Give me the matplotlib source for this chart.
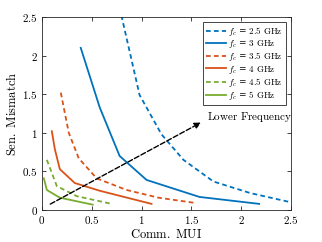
import matplotlib.pyplot as plt
import numpy as np

plt.rcParams['mathtext.fontset'] = 'cm'
plt.rcParams['font.family'] = ['DejaVu Serif']

# data
x_25 = [0.78, 0.98, 1.20, 1.42, 1.72, 2.09, 2.50]
y_25 = [2.62, 1.49, 0.98, 0.65, 0.37, 0.22, 0.10]
x_30 = [0.39, 0.58, 0.78, 1.05, 1.58, 2.18]
y_30 = [2.10, 1.33, 0.70, 0.39, 0.17, 0.08]
x_35 = [0.19, 0.27, 0.37, 0.55, 0.85, 1.17, 1.55]
y_35 = [1.52, 1.00, 0.67, 0.41, 0.26, 0.16, 0.09]
x_40 = [0.10, 0.13, 0.18, 0.33, 0.58, 1.10]
y_40 = [1.02, 0.79, 0.53, 0.35, 0.25, 0.08]
x_45 = [0.05, 0.15, 0.35, 0.70]
y_45 = [0.65, 0.31, 0.18, 0.08]
x_50 = [0.02, 0.05, 0.18, 0.51]
y_50 = [0.41, 0.26, 0.16, 0.07]

labels = ['2.5', '3', '3.5', '4', '4.5', '5']
ticks = [0, 0.5, 1, 1.5, 2, 2.5]
tick_labels = ['0', '0.5', '1', '1.5', '2', '2.5']

blue = '#0072BD'
orange = '#D95319'
green = '#77AC30'

fig = plt.figure(figsize=(3.22, 2.42), dpi=100)
ax = fig.add_axes([0.130, 0.132, 0.774, 0.798])

series = [
    (x_25, y_25, blue, True),
    (x_30, y_30, blue, False),
    (x_35, y_35, orange, True),
    (x_40, y_40, orange, False),
    (x_45, y_45, green, True),
    (x_50, y_50, green, False),
]
for (xs, ys, c, dashed), lab in zip(series, labels):
    line, = ax.plot(xs, ys, color=c, linewidth=1.3,
                    label=r'$f_c$ = ' + r'$\mathrm{%s\ GHz}$' % lab)
    if dashed:
        line.set_dashes((2.6, 1.8))

# arrow
ax.annotate('', xy=(1.62, 1.15), xytext=(0.06, 0.06),
            arrowprops=dict(arrowstyle='-|>', linestyle='--', color='black',
                            lw=1.0, mutation_scale=9))
ax.text(1.66, 1.2, r'$\mathrm{Lower\ Frequency}$', fontsize=8,
        va='center', ha='left')

ax.set_xlim(0, 2.5)
ax.set_ylim(0, 2.5)
ax.set_xticks(ticks)
ax.set_yticks(ticks)
ax.set_xticklabels([r'$%s$' % t for t in tick_labels], fontsize=8)
ax.set_yticklabels([r'$%s$' % t for t in tick_labels], fontsize=8)
ax.tick_params(direction='in', top=True, right=True, length=3,
               width=0.6, color='#262626', pad=3)
for s in ax.spines.values():
    s.set_color('#262626')
    s.set_linewidth(0.6)

ax.set_xlabel(r'$\mathrm{Comm.\ MUI}$', fontsize=9, labelpad=1)
ax.set_ylabel(r'$\mathrm{Sen.\ Mismatch}$', fontsize=9, labelpad=2)

leg = ax.legend(loc='upper right', fontsize=6.5, handlelength=2.2,
                handletextpad=0.3, labelspacing=0.02, borderpad=0.3,
                borderaxespad=0.6, fancybox=False, framealpha=1,
                edgecolor='#262626')
leg.get_frame().set_linewidth(0.6)

fig.savefig('out.png', dpi=100)
